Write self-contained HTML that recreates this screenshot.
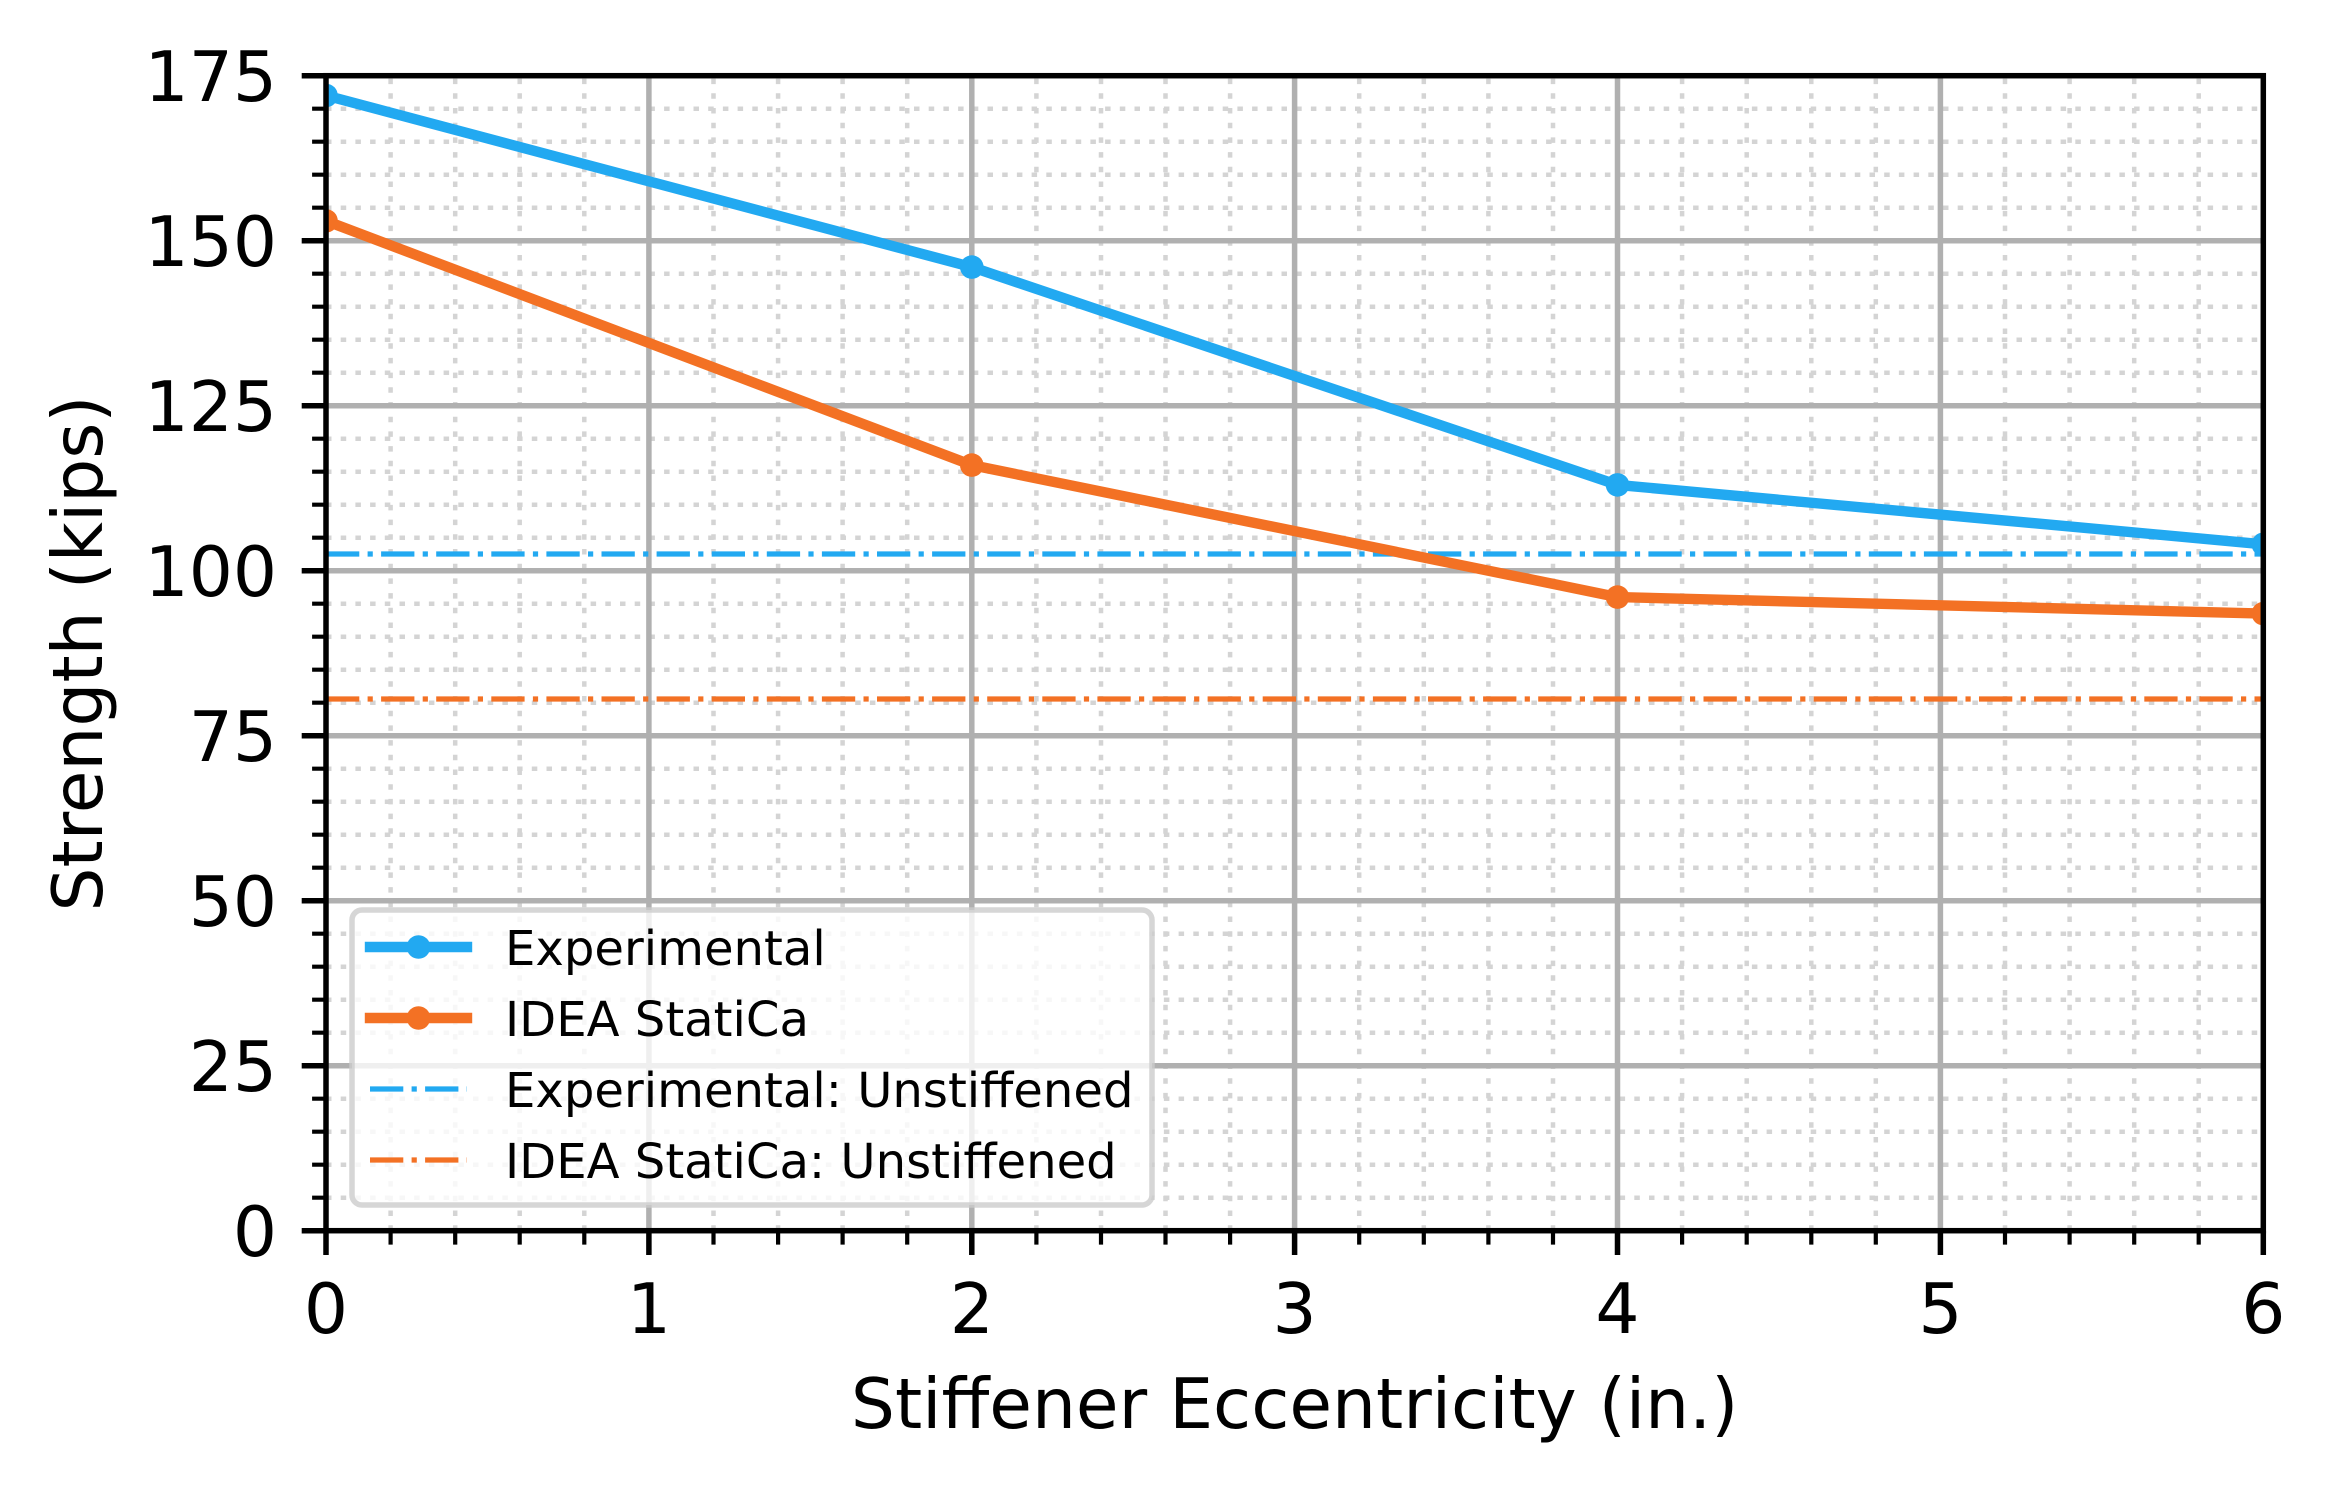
<!DOCTYPE html>
<html>
<head>
<meta charset="utf-8">
<style>
html,body{margin:0;padding:0;background:#fff;}
svg{display:block;}
text{font-family:"DejaVu Sans","Liberation Sans",sans-serif;fill:#000;}
</style>
</head>
<body>
<svg width="2335" height="1491" viewBox="0 0 2335 1491" xmlns="http://www.w3.org/2000/svg">
<defs>
<clipPath id="ax"><rect x="326" y="75.7" width="1937.3" height="1155"/></clipPath>
</defs>
<rect x="0" y="0" width="2335" height="1491" fill="#fff"/>

<!-- minor grid -->
<g stroke="#d4d4d4" stroke-width="4.5" stroke-dasharray="5.5 9.2" fill="none">
<path d="M390.6 1230.7V75.7M455.2 1230.7V75.7M519.7 1230.7V75.7M584.3 1230.7V75.7M713.5 1230.7V75.7M778.1 1230.7V75.7M842.6 1230.7V75.7M907.2 1230.7V75.7M1036.4 1230.7V75.7M1101 1230.7V75.7M1165.5 1230.7V75.7M1230.1 1230.7V75.7M1359.2 1230.7V75.7M1423.8 1230.7V75.7M1488.4 1230.7V75.7M1553 1230.7V75.7M1682.1 1230.7V75.7M1746.7 1230.7V75.7M1811.3 1230.7V75.7M1875.8 1230.7V75.7M2005 1230.7V75.7M2069.6 1230.7V75.7M2134.2 1230.7V75.7M2198.7 1230.7V75.7"/>
<path d="M326 1197.7H2263.3M326 1164.7H2263.3M326 1131.7H2263.3M326 1098.7H2263.3M326 1032.7H2263.3M326 999.7H2263.3M326 966.7H2263.3M326 933.7H2263.3M326 867.7H2263.3M326 834.7H2263.3M326 801.7H2263.3M326 768.7H2263.3M326 702.7H2263.3M326 669.7H2263.3M326 636.7H2263.3M326 603.7H2263.3M326 537.7H2263.3M326 504.7H2263.3M326 471.7H2263.3M326 438.7H2263.3M326 372.7H2263.3M326 339.7H2263.3M326 306.7H2263.3M326 273.7H2263.3M326 207.7H2263.3M326 174.7H2263.3M326 141.7H2263.3M326 108.7H2263.3"/>
</g>

<!-- major grid -->
<g stroke="#b0b0b0" stroke-width="5.5" fill="none">
<path d="M648.9 1230.7V75.7M971.8 1230.7V75.7M1294.6 1230.7V75.7M1617.5 1230.7V75.7M1940.4 1230.7V75.7"/>
<path d="M326 1065.7H2263.3M326 900.7H2263.3M326 735.7H2263.3M326 570.7H2263.3M326 405.7H2263.3M326 240.7H2263.3"/>
</g>

<!-- data -->
<g clip-path="url(#ax)">
<line x1="326" y1="554" x2="2263.3" y2="554" stroke="#22a9f1" stroke-width="5.2" stroke-dasharray="33.3 8.3 5.2 8.3"/>
<line x1="326" y1="699" x2="2263.3" y2="699" stroke="#f37124" stroke-width="5.2" stroke-dasharray="33.3 8.3 5.2 8.3"/>
<polyline points="326,95.5 971.8,267.1 1617.5,484.9 2263.3,544.3" fill="none" stroke="#22a9f1" stroke-width="10.4" stroke-linejoin="round"/>
<polyline points="326,220.9 971.8,465.1 1617.5,597.1 2263.3,613.6" fill="none" stroke="#f37124" stroke-width="10.4" stroke-linejoin="round"/>
<g fill="#22a9f1">
<circle cx="326" cy="95.5" r="11.8"/><circle cx="971.8" cy="267.1" r="11.8"/><circle cx="1617.5" cy="484.9" r="11.8"/><circle cx="2263.3" cy="544.3" r="11.8"/>
</g>
<g fill="#f37124">
<circle cx="326" cy="220.9" r="11.8"/><circle cx="971.8" cy="465.1" r="11.8"/><circle cx="1617.5" cy="597.1" r="11.8"/><circle cx="2263.3" cy="613.6" r="11.8"/>
</g>
</g>

<!-- spines -->
<rect x="326" y="75.7" width="1937.3" height="1155" fill="none" stroke="#000" stroke-width="5.5"/>

<!-- ticks -->
<g stroke="#000" stroke-width="5.5">
<path d="M326 1230.7v24.3M648.9 1230.7v24.3M971.8 1230.7v24.3M1294.6 1230.7v24.3M1617.5 1230.7v24.3M1940.4 1230.7v24.3M2263.3 1230.7v24.3"/>
<path d="M326 1230.7h-24.3M326 1065.7h-24.3M326 900.7h-24.3M326 735.7h-24.3M326 570.7h-24.3M326 405.7h-24.3M326 240.7h-24.3M326 75.7h-24.3"/>
</g>
<g stroke="#000" stroke-width="4.2">
<path d="M390.6 1230.7v13.9M455.2 1230.7v13.9M519.7 1230.7v13.9M584.3 1230.7v13.9M713.5 1230.7v13.9M778.1 1230.7v13.9M842.6 1230.7v13.9M907.2 1230.7v13.9M1036.4 1230.7v13.9M1101 1230.7v13.9M1165.5 1230.7v13.9M1230.1 1230.7v13.9M1359.2 1230.7v13.9M1423.8 1230.7v13.9M1488.4 1230.7v13.9M1553 1230.7v13.9M1682.1 1230.7v13.9M1746.7 1230.7v13.9M1811.3 1230.7v13.9M1875.8 1230.7v13.9M2005 1230.7v13.9M2069.6 1230.7v13.9M2134.2 1230.7v13.9M2198.7 1230.7v13.9"/>
<path d="M326 1197.7h-13.9M326 1164.7h-13.9M326 1131.7h-13.9M326 1098.7h-13.9M326 1032.7h-13.9M326 999.7h-13.9M326 966.7h-13.9M326 933.7h-13.9M326 867.7h-13.9M326 834.7h-13.9M326 801.7h-13.9M326 768.7h-13.9M326 702.7h-13.9M326 669.7h-13.9M326 636.7h-13.9M326 603.7h-13.9M326 537.7h-13.9M326 504.7h-13.9M326 471.7h-13.9M326 438.7h-13.9M326 372.7h-13.9M326 339.7h-13.9M326 306.7h-13.9M326 273.7h-13.9M326 207.7h-13.9M326 174.7h-13.9M326 141.7h-13.9M326 108.7h-13.9"/>
</g>

<!-- tick labels -->
<g font-size="69.4" text-anchor="middle">
<text x="326" y="1333">0</text>
<text x="648.9" y="1333">1</text>
<text x="971.8" y="1333">2</text>
<text x="1294.6" y="1333">3</text>
<text x="1617.5" y="1333">4</text>
<text x="1940.4" y="1333">5</text>
<text x="2263.3" y="1333">6</text>
</g>
<g font-size="69.4" text-anchor="end">
<text x="277" y="1256">0</text>
<text x="277" y="1091">25</text>
<text x="277" y="926">50</text>
<text x="277" y="761">75</text>
<text x="277" y="596">100</text>
<text x="277" y="431">125</text>
<text x="277" y="266">150</text>
<text x="277" y="101">175</text>
</g>

<!-- axis labels -->
<text x="1294.6" y="1428" font-size="69.4" text-anchor="middle">Stiffener Eccentricity (in.)</text>
<text transform="translate(102,653.5) rotate(-90)" font-size="69.4" text-anchor="middle">Strength (kips)</text>

<!-- legend -->
<rect x="352" y="910" width="800" height="295" rx="10" ry="10" fill="#fff" fill-opacity="0.8" stroke="#cccccc" stroke-opacity="0.8" stroke-width="5.5"/>
<line x1="370" y1="947" x2="467" y2="947" stroke="#22a9f1" stroke-width="10.4" stroke-linecap="square"/>
<circle cx="418.5" cy="947" r="11.8" fill="#22a9f1"/>
<line x1="370" y1="1018" x2="467" y2="1018" stroke="#f37124" stroke-width="10.4" stroke-linecap="square"/>
<circle cx="418.5" cy="1018" r="11.8" fill="#f37124"/>
<line x1="370" y1="1089" x2="467" y2="1089" stroke="#22a9f1" stroke-width="5.2" stroke-dasharray="33.3 8.3 5.2 8.3"/>
<line x1="370" y1="1160" x2="467" y2="1160" stroke="#f37124" stroke-width="5.2" stroke-dasharray="33.3 8.3 5.2 8.3"/>
<g font-size="48.1">
<text x="505" y="965">Experimental</text>
<text x="505" y="1036">IDEA StatiCa</text>
<text x="505" y="1107">Experimental: Unstiffened</text>
<text x="505" y="1178">IDEA StatiCa: Unstiffened</text>
</g>
</svg>
</body>
</html>
